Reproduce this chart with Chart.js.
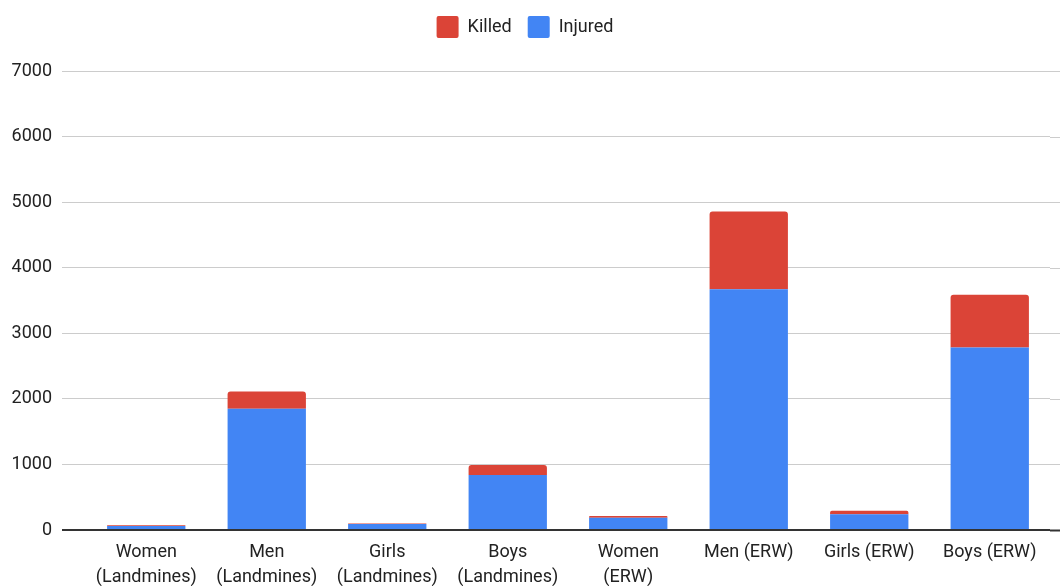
<!DOCTYPE html>
<html>
<head>
<meta charset="utf-8">
<script src="https://cdn.jsdelivr.net/npm/chart.js@4/dist/chart.umd.min.js"></script>
<style>
  html, body { margin: 0; padding: 0; background: #fff; }
  #wrap { width: 1060px; height: 586px; }
</style>
</head>
<body>
<div id="wrap"><canvas id="casualtyChart" width="1060" height="586"></canvas></div>
<script>
const categories = [
  ['Women', '(Landmines)'], ['Men', '(Landmines)'], ['Girls', '(Landmines)'], ['Boys', '(Landmines)'],
  ['Women', '(ERW)'], 'Men (ERW)', 'Girls (ERW)', 'Boys (ERW)'
];
const injured = [62, 1850, 93, 840, 188, 3673, 240, 2782];
const killed = [10, 262, 5, 150, 26, 1183, 55, 805];
const yMax = 7000;
const yStep = 1000;

Chart.defaults.font.family = 'Roboto, Arial, sans-serif';
Chart.defaults.color = '#222';

// legend sits in a taller box than Chart.js gives it
const legendGap = {
  id: 'legendGap',
  beforeInit(chart) {
    const fit = chart.legend.fit;
    chart.legend.fit = function () {
      fit.bind(chart.legend)();
      this.height += 23;
    };
  }
};

// gridlines run a little past the last bar on the right
const gridTail = {
  id: 'gridTail',
  beforeDatasetsDraw(chart) {
    const { ctx, chartArea, scales } = chart;
    ctx.save();
    scales.y.ticks.forEach(t => {
      const y = Math.round(scales.y.getPixelForValue(t.value)) + 0.5;
      ctx.strokeStyle = t.value === 0 ? '#333' : '#ccc';
      ctx.lineWidth = t.value === 0 ? 2 : 1;
      ctx.beginPath();
      ctx.moveTo(chartArea.right, y);
      ctx.lineTo(chart.width, y);
      ctx.stroke();
    });
    ctx.restore();
  }
};

const ctx = document.getElementById('casualtyChart').getContext('2d');
const casualtyChart = new Chart(ctx, {
  type: 'bar',
  data: {
    labels: categories,
    datasets: [{
      label: 'Injured',
      data: injured,
      backgroundColor: '#4285F4',
      barPercentage: 0.65,
      categoryPercentage: 1
    }, {
      label: 'Killed',
      data: killed,
      backgroundColor: '#DB4437',
      borderRadius: { topLeft: 3, topRight: 3 },
      borderSkipped: 'bottom',
      barPercentage: 0.65,
      categoryPercentage: 1
    }]
  },
  options: {
    responsive: false,
    animation: false,
    layout: {
      padding: { right: 10 }
    },
    plugins: {
      legend: {
        display: true,
        position: 'top',
        labels: {
          boxWidth: 22,
          boxHeight: 22,
          padding: 16,
          useBorderRadius: true,
          borderRadius: 2,
          color: '#222',
          font: { size: 18 },
          sort: (a, b) => b.datasetIndex - a.datasetIndex
        }
      },
      tooltip: { enabled: false }
    },
    scales: {
      x: {
        stacked: true,
        grid: { display: false },
        border: { display: false },
        ticks: {
          color: '#222',
          padding: 2,
          maxRotation: 0,
          autoSkip: false,
          font: { size: 18, lineHeight: 1.39 }
        },
        afterFit(scale) { scale.height = 56; }
      },
      y: {
        stacked: true,
        min: 0,
        max: yMax,
        border: { display: false },
        grid: {
          drawTicks: true,
          tickLength: 24,
          color: c => c.tick && c.tick.value === 0 ? '#333' : '#ccc',
          lineWidth: c => c.tick && c.tick.value === 0 ? 2 : 1
        },
        ticks: {
          stepSize: yStep,
          padding: 10,
          color: '#222',
          font: { size: 18 },
          callback: v => String(v)
        },
        afterFit(scale) { scale.width = 86; }
      }
    }
  },
  plugins: [legendGap, gridTail]
});
</script>
</body>
</html>
